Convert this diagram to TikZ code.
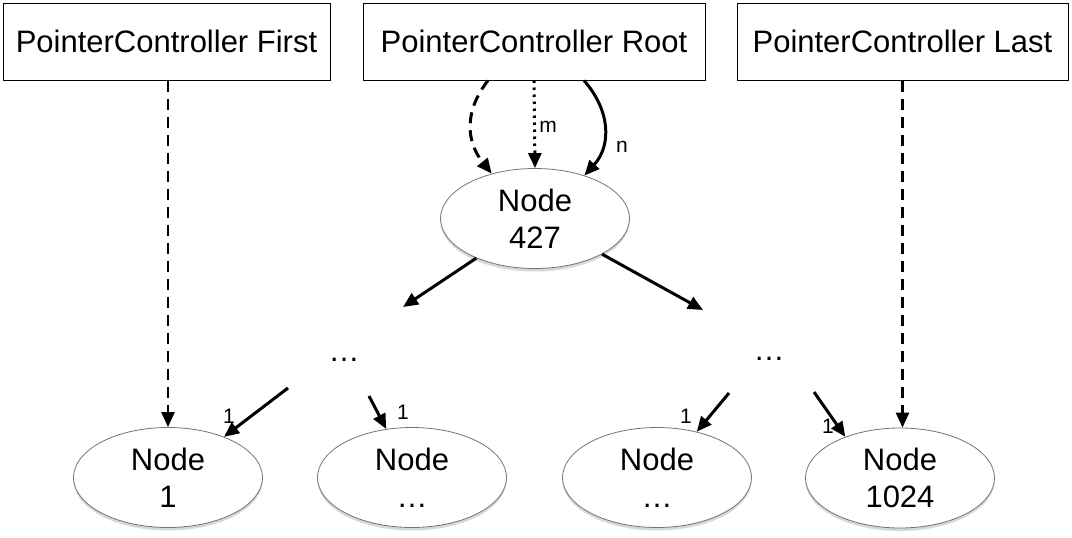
\documentclass[tikz,border=0pt]{standalone}
\usepackage{fontspec}
\setmainfont{Liberation Sans}
\usetikzlibrary{shapes.geometric,arrows.meta,shadows,calc}
\begin{document}
\begin{tikzpicture}[x=1pt,y=-1pt,
  pcbox/.style={draw=black,line width=1pt,minimum height=77pt,inner sep=0pt,font=\fontsize{31}{37}\selectfont},
  treenode/.style={ellipse,draw=black!55,line width=0.8pt,fill=white,minimum width=189pt,minimum height=100pt,inner sep=0pt,align=center,font=\fontsize{31}{37}\selectfont,
    drop shadow={shadow xshift=0pt,shadow yshift=-3pt,opacity=0.25,fill=black!60}},
  arr/.style={line width=3pt,-{Triangle[length=15pt,width=13pt]}},
  dashedarr/.style={arr,dash pattern=on 11pt off 7pt},
  dottedarr/.style={arr,dash pattern=on 2.5pt off 4.5pt},
  lbl/.style={font=\fontsize{21}{24}\selectfont,inner sep=0pt},
  dotslbl/.style={font=\fontsize{31}{37}\selectfont,inner sep=0pt}]
\useasboundingbox (0,0) rectangle (1072,538);
\fill[white] (0,0) rectangle (1072,538);

\node[pcbox,minimum width=327pt] (first) at (166.5,41.5) {PointerController First};
\node[pcbox,minimum width=342pt] (root) at (534,41.5) {PointerController Root};
\node[pcbox,minimum width=331pt] (last) at (902.5,41.5) {PointerController Last};

\node[treenode] (n427) at (535,218.5) {Node\\427};
\node[treenode] (n1) at (168,477.5) {Node\\1};
\node[treenode] (n2) at (412,477.5) {Node\\…};
\node[treenode] (n3) at (657,477.5) {Node\\…};
\node[treenode] (n4) at (900,478) {Node\\1024};

\node[dotslbl] (dl) at (344,360) {…};
\node[dotslbl] (dr) at (769,359) {…};

% root loops
\coordinate (rdash) at ($(root.south)+(-46,0)$);
\coordinate (rsolid) at ($(root.south)+(50,0)$);
\draw[dashedarr] (rdash) .. controls (465,110) and (465,140) .. (n427.134);
\draw[dottedarr] (root.south) -- (n427.north);
\draw[arr] (rsolid) .. controls (610,110) and (612,145) .. (n427.41);
\node[lbl] (lm) at (548,127) {m};
\node[lbl] (ln) at (622,147) {n};

% from node 427
\coordinate (c1) at (403,307);
\coordinate (c2) at (703,310);
\draw[arr] (n427.214) -- (c1);
\draw[arr] (n427.332) -- (c2);

% first / last
\draw[dashedarr,line width=2.5pt] (first.south -| n1.north) -- (n1.north);
\draw[dashedarr,line width=2.5pt] (last.south) -- (last.south |- n4.north);

% bottom arrows
\coordinate (b1) at (288,388);
\coordinate (b2) at (369,396);
\coordinate (b3) at (729,393);
\coordinate (b4) at (814,392);
\draw[arr] (b1) -- (n1.36);
\draw[arr] (b2) -- (n2.118);
\draw[arr] (b3) -- (n3.49);
\draw[arr] (b4) -- (n4.143);
\node[lbl] (l1) at (229,416) {1};
\node[lbl] (l2) at (403,412) {1};
\node[lbl] (l3) at (686,416) {1};
\node[lbl] (l4) at (828,426) {1};
\end{tikzpicture}
\end{document}
